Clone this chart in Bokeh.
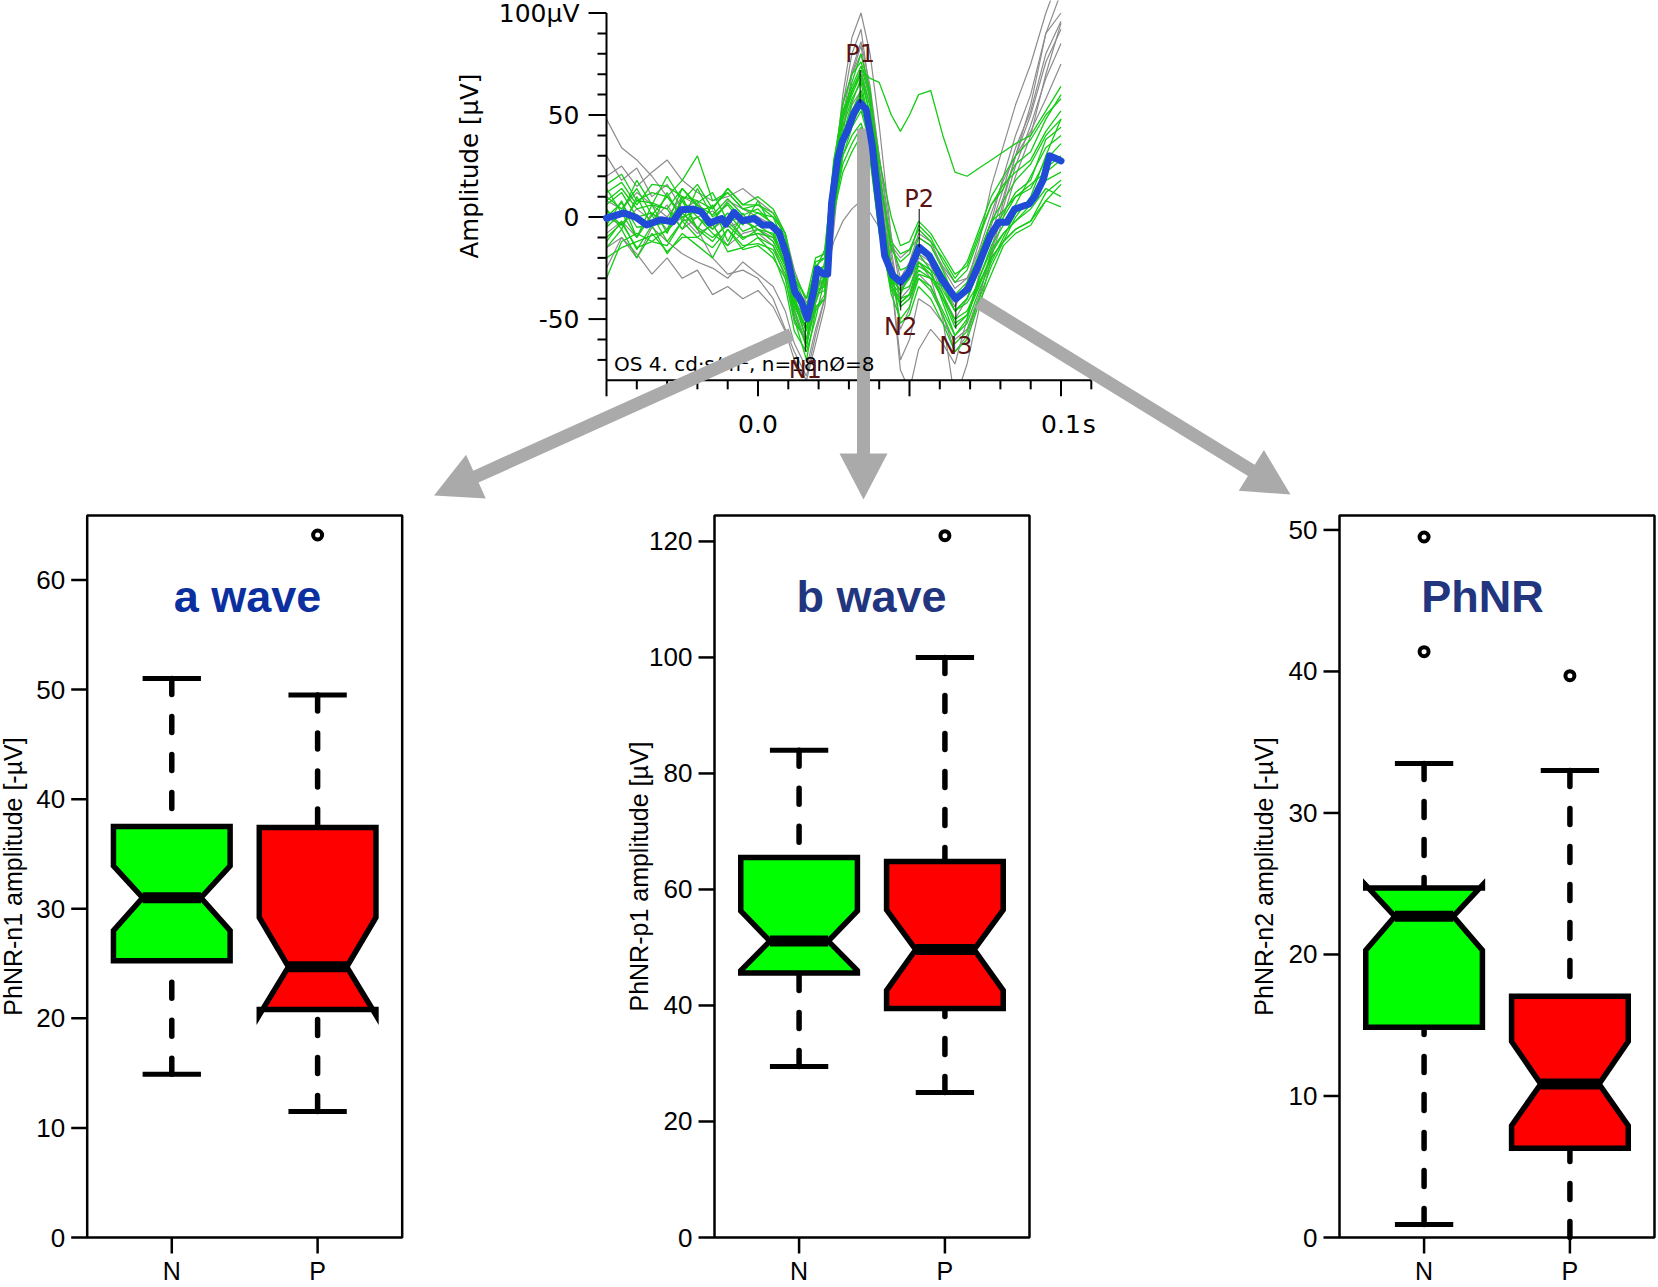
import numpy as np
from bokeh.plotting import figure
from bokeh.models import Range1d
from bokeh.core.properties import value
from bokeh.embed import file_html
from bokeh.resources import INLINE

# ============================== DATA ==============================
# ---- ERG (top panel) ----
trace_t_ms = [-50, -45, -40, -35, -30, -25, -20, -15, -10, -5,
              0, 5, 9, 12, 16, 19, 22, 25, 28, 31,
              34, 37, 40, 44, 47, 50, 53, 57, 61, 65,
              69, 73, 77, 81, 85, 90, 95, 100]

green_traces = [
    [6, 12, 0, 2, -3, 14, 5, -2, 7, -1, 2, -3, -14, -42, -60, -34, -30, 22, 48, 60,
     70, 50, 10, -28, -36, -30, -14, -22, -36, -46, -40, -26, -8, 2, 12, 18, 38, 44],
    [-10, -3, -15, -12, -14, -2, -10, -15, -6, -14, -13, -16, -28, -44, -55, -38, -36, 4, 26, 36,
     44, 30, -6, -36, -42, -38, -26, -30, -40, -50, -46, -33, -20, -12, -6, -2, 12, 18],
    [16, 21, 8, 12, 10, 18, 30, 8, 12, 4, 6, 0, -8, -28, -40, -20, -18, 28, 52, 64,
     74, 58, 28, 0, -14, -12, -2, -8, -18, -28, -24, -8, 6, 14, 26, 32, 48, 60],
    [0, 7, -5, -4, -3, 8, 0, -6, 2, -7, -4, -9, -20, -40, -52, -30, -26, 16, 40, 52,
     60, 42, 6, -26, -30, -26, -14, -18, -28, -38, -32, -18, -2, 3, 10, 14, 28, 36],
    [-20, -15, -12, -9, -7, 2, -5, -10, -4, -11, -6, -12, -24, -42, -56, -36, -34, 8, 30, 40,
     46, 32, -2, -34, -40, -38, -22, -28, -38, -52, -48, -30, -16, -8, -2, 4, 14, 10],
    [8, 14, 4, 6, 4, 14, 6, 1, 9, 1, 4, -4, -14, -34, -44, -24, -20, 22, 48, 62,
     72, 68, 66, 50, 42, 50, 60, 62, 40, 22, 20, 24, 28, 32, 36, 40, 52, 64],
    [10, 4, 14, 1, 10, 0, 3, 5, 12, 4, 2, 0, -14, -40, -60, -44, -40, 4, 36, 52,
     62, 46, 10, -30, -44, -40, -30, -36, -48, -62, -56, -40, -24, -12, 0, 10, 30, 48],
    [-5, 2, -10, 1, -12, -2, 0, -8, -14, -1, -6, -8, -24, -50, -70, -46, -40, 6, 40, 56,
     68, 50, 12, -24, -52, -48, -34, -40, -52, -66, -60, -42, -28, -14, -8, -4, 8, 16],
    [3, -4, 8, 7, 4, -6, 7, 12, -2, 0, -2, -6, -16, -30, -40, -26, -24, 20, 50, 66,
     80, 62, 22, -16, -22, -18, -4, -10, -22, -32, -26, -10, 6, 16, 22, 28, 42, 52],
    [-15, -6, -20, -8, -17, -10, -10, -3, -17, -15, -10, -14, -26, -40, -46, -36, -34, 2, 22, 32,
     40, 28, -8, -30, -32, -30, -22, -26, -32, -46, -42, -32, -20, -12, -6, -2, 8, 5],
    [12, 17, 6, 16, 15, 10, 8, 4, 14, 6, 6, 2, -10, -32, -46, -22, -20, 24, 50, 62,
     70, 54, 18, -14, -26, -24, -10, -14, -26, -40, -36, -18, -2, 8, 18, 26, 40, 48],
    [-30, -12, -8, -12, -6, 8, -6, -12, -2, -10, -8, -10, -22, -42, -54, -30, -26, 12, 36, 46,
     54, 38, 2, -34, -42, -38, -28, -30, -34, -46, -40, -24, -8, 0, 10, 16, 22, 28],
    [4, -6, 10, -4, 12, -2, 14, 0, 6, -4, 8, -6, -24, -46, -64, -40, -22, 14, 44, 58,
     66, 44, 0, -32, -38, -28, -18, -26, -42, -58, -50, -30, -14, -4, 6, 20, 34, 40],
    [-4, 8, -10, 6, -8, 10, -6, 6, -12, 2, -10, -18, -34, -56, -66, -50, -30, 6, 34, 50,
     58, 40, -4, -38, -50, -44, -30, -34, -46, -58, -52, -36, -22, -10, 2, 8, 24, 30],
    [14, 2, 18, 6, 20, 8, 16, 4, 14, 6, 10, 4, -8, -30, -44, -26, -16, 26, 56, 70,
     76, 60, 20, -12, -18, -16, -6, -12, -20, -30, -22, -6, 10, 20, 30, 38, 50, 58],
    [-12, -2, -16, -4, -18, -8, -14, -20, -6, -16, -14, -20, -30, -50, -62, -42, -28, 0, 30, 44,
     52, 36, -2, -30, -36, -34, -24, -28, -40, -54, -48, -34, -18, -8, -2, 6, 18, 22],
]

gray_traces = [
    [48, 34, 28, 20, 10, 2, -6, -20, -28, -26, -30, -40, -55, -66, -78, -58, -40, 0, 35, 55,
     62, 45, 20, -30, -75, -85, -65, -55, -62, -72, -50, -28, -8, 10, 30, 55, 90, 110],
    [-15, -10, -20, -5, -12, -18, -22, -25, -30, -22, -28, -34, -46, -62, -74, -55, -40, 10, 55, 80,
     92, 60, 30, -10, -30, -22, -8, -12, -25, -35, -30, -20, -2, 20, 40, 60, 90, 100],
    [20, 25, 15, 22, 28, 18, 12, 8, 10, 14, 8, 2, -8, -26, -42, -36, -30, 20, 60, 88,
     100, 80, 45, -10, -35, -30, -18, -22, -32, -44, -32, -12, 15, 35, 55, 75, 100, 120],
    [0, -4, 4, -2, 6, -6, 0, 3, -5, -2, -6, -10, -22, -45, -62, -42, -30, -12, -2, 4,
     8, 2, -5, -14, -20, -16, -10, -14, -24, -32, -30, -16, 2, 18, 30, 42, 58, 75],
    [8, 4, 12, 6, 0, 10, 6, -2, 8, 4, 0, -4, -16, -40, -55, -34, -28, 22, 55, 70,
     80, 60, 25, -25, -55, -45, -22, -30, -50, -90, -72, -45, -20, 0, 20, 40, 70, 95],
    [-8, -2, -10, 2, -6, 0, -8, -4, -14, -8, -6, -12, -24, -48, -62, -45, -38, 8, 45, 62,
     72, 55, 18, -30, -70, -60, -40, -44, -52, -60, -55, -38, -18, 5, 25, 45, 68, 85],
    [-25, -10, -18, -28, -20, -30, -26, -38, -34, -40, -36, -44, -56, -70, -80, -62, -44, -6, 40, 70,
     84, 56, 24, -20, -40, -35, -20, -24, -38, -50, -40, -26, -4, 14, 34, 52, 80, 96],
    [30, 18, 24, 10, 16, 4, 8, -6, 0, -10, -8, -14, -30, -52, -60, -40, -30, 14, 50, 72,
     86, 64, 30, -16, -44, -40, -28, -34, -48, -66, -58, -40, -16, 8, 30, 50, 76, 92],
]

mean_t_ms = [-50.0, -44.2, -40.2, -36.8, -32.1, -28.1, -25.4, -21.4, -18.7, -16.0,
             -12.0, -10.6, -7.9, -5.2, -1.2, 1.5, 4.2, 6.9, 9.5, 12.2,
             14.2, 16.3, 18.3, 19.6, 21.6, 23.0, 24.3, 26.3, 27.7, 29.7,
             31.7, 33.7, 35.7, 37.7, 39.8, 41.8, 44.5, 47.1, 49.8, 53.2,
             56.5, 60.6, 65.3, 69.3, 72.7, 76.7, 79.4, 82.1, 84.7, 89.5,
             91.5, 94.2, 96.2, 98.9, 100.0]
mean_uv = [-0.5, 2.0, -0.2, -3.9, -1.3, -2.3, 3.6, 3.9, 2.6, -2.9,
           -0.7, -3.4, 2.3, -1.8, -0.7, -3.9, -3.9, -7.5, -18.9, -36.8,
           -40.9, -49.8, -36.8, -25.4, -27.9, -27.9, 7.2, 28.3, 36.5, 43.0,
           51.1, 56.0, 52.8, 34.9, 7.2, -18.9, -28.7, -31.9, -27.0, -14.8,
           -18.9, -30.3, -40.1, -35.2, -23.8, -9.1, -2.6, -2.6, 3.9, 6.4,
           10.4, 18.6, 30.0, 28.3, 27.5]

peak_names = ["N1", "P1", "N2", "P2", "N3"]
peak_t_ms = [15.6, 33.7, 47.1, 53.2, 65.3]
peak_label_uv = [-75.0, 80.0, -54.0, 9.0, -63.0]
peak_line_from_uv = [-51.5, 72.0, -32.7, 4.0, -41.7]
peak_line_to_uv = [-66.0, 56.0, -45.8, -14.8, -54.7]

erg_major_y = [100, 50, 0, -50]
erg_major_y_labels = ["100μV", "50", "0", "-50"]
erg_minor_y = [90, 80, 70, 60, 40, 30, 20, 10, -10, -20, -30, -40, -60, -70]
erg_major_x = [-0.05, 0.0, 0.05, 0.1]
erg_label_x = [0.0, 0.1]
erg_label_x_text = ["0.0", "0.1"]
erg_minor_x = [-0.04, -0.03, -0.02, -0.01, 0.01, 0.02, 0.03, 0.04, 0.06, 0.07, 0.08, 0.09, 0.11]
erg_note = "OS 4. cd·s/m², n=18nØ=8"

# ---- box plots (N / P groups) ----
groups = ["N", "P"]
group_pos = [1, 2]

a_low = [14.9, 11.5]
a_q1 = [25.25, 20.8]
a_notch_lo = [28.0, 20.3]
a_median = [31.0, 24.7]
a_notch_hi = [33.9, 29.2]
a_q3 = [37.5, 37.4]
a_high = [51.0, 49.5]
a_out_pos = [2]
a_out_val = [64.1]
a_ticks = [0, 10, 20, 30, 40, 50, 60]

b_low = [29.5, 25.0]
b_q1 = [45.6, 39.5]
b_notch_lo = [46.0, 42.6]
b_median = [51.1, 49.65]
b_notch_hi = [56.3, 56.5]
b_q3 = [65.5, 64.8]
b_high = [84.0, 100.0]
b_out_pos = [2]
b_out_val = [121.0]
b_ticks = [0, 20, 40, 60, 80, 100, 120]

c_low = [0.92, 0.0]
c_q1 = [14.86, 6.3]
c_notch_lo = [20.3, 7.9]
c_median = [22.7, 10.85]
c_notch_hi = [24.9, 13.85]
c_q3 = [24.7, 17.05]
c_high = [33.5, 33.0]
c_out_pos = [1, 1, 2]
c_out_val = [49.5, 41.4, 39.7]
c_ticks = [0, 10, 20, 30, 40, 50]

panel_titles = ["a wave", "b wave", "PhNR"]
panel_ylabels = ["PhNR-n1 amplitude [-µV]", "PhNR-p1 amplitude [µV]", "PhNR-n2 amplitude [-µV]"]

# ============================ LAYOUT ============================
W, H = 1656, 1285
ERG_T0, ERG_TMAX, ERG_X0, ERG_KX = -0.05, 0.11, 606.0, 3030.0
ERG_VMAX, ERG_VMIN, ERG_Y0, ERG_KY = 100.0, -80.0, 12.5, 2.0406
BOX_X_LO, BOX_X_HI, BOX_KX = 0.42, 2.58, 145.83
BOX_LEFT = [86.7, 714.0, 1339.0]
BOX_Y_ZERO, BOX_Y_TOP = 1237.0, 515.0
BOX_TOPVAL = [65.88, 124.47, 51.02]
TITLE_X = [247.0, 871.0, 1482.0]
TITLE_BASE_Y = 596.0
TITLE_COLORS = ["#0c2f9f", "#22357f", "#22357f"]
ARROW_MIDDLE = ((863.0, 128.0), (863.0, 499.0))
ARROWS_SIDE = [((790.8, 334.0), (433.5, 495.0)),
               ((978.0, 302.0), (1290.0, 494.0))]
GREEN_FILL, RED_FILL = "#00ff00", "#ff0000"


def cy(y_down):
    return H - y_down


def xrange_for(d0, c0, k):
    s = d0 - c0 / k
    return Range1d(start=s, end=s + W / k)


def yrange_for(d0, c0_down, k):
    e = d0 + c0_down / k
    return Range1d(start=e - H / k, end=e)


p = figure(width=W, height=H, x_range=Range1d(0, W), y_range=Range1d(0, H),
           output_backend="svg", toolbar_location=None, min_border=0,
           x_axis_type=None, y_axis_type=None, outline_line_color=None)
p.background_fill_color = "white"
p.border_fill_color = "white"

box_k = [(BOX_Y_ZERO - BOX_Y_TOP) / tv for tv in BOX_TOPVAL]
p.extra_x_ranges = {"erg": xrange_for(ERG_T0, ERG_X0, ERG_KX),
                    "b0": xrange_for(BOX_X_LO, BOX_LEFT[0], BOX_KX),
                    "b1": xrange_for(BOX_X_LO, BOX_LEFT[1], BOX_KX),
                    "b2": xrange_for(BOX_X_LO, BOX_LEFT[2], BOX_KX)}
p.extra_y_ranges = {"erg": yrange_for(ERG_VMAX, ERG_Y0, ERG_KY),
                    "b0": yrange_for(0.0, BOX_Y_ZERO, box_k[0]),
                    "b1": yrange_for(0.0, BOX_Y_ZERO, box_k[1]),
                    "b2": yrange_for(0.0, BOX_Y_ZERO, box_k[2])}

E = dict(x_range_name="erg", y_range_name="erg")
DJ = value("DejaVu Sans")
LS = value("Liberation Sans")

# ---------------- ERG traces ----------------
tt = [t / 1000.0 for t in trace_t_ms]
p.multi_line(xs=[tt] * len(gray_traces), ys=gray_traces, line_color="#8c8c8c",
             line_width=1.2, **E)
p.multi_line(xs=[tt] * len(green_traces), ys=green_traces, line_color="#14cc14",
             line_width=1.3, **E)
# hide everything below the x axis of the ERG (plot-area clipping)
p.quad(left=[ERG_T0 - 0.01], right=[ERG_TMAX + 0.01], bottom=[ERG_VMIN - 50],
       top=[ERG_VMIN], fill_color="white", line_color=None, **E)

# ---------------- ERG axes ----------------
p.segment(x0=[ERG_T0, ERG_T0], y0=[ERG_VMIN, ERG_VMIN], x1=[ERG_T0, ERG_TMAX],
          y1=[ERG_VMAX, ERG_VMIN], line_color="black", line_width=2, **E)
p.segment(x0=[ERG_T0 - 18 / ERG_KX] * len(erg_major_y), y0=erg_major_y,
          x1=[ERG_T0] * len(erg_major_y), y1=erg_major_y, line_color="black", line_width=2, **E)
p.segment(x0=[ERG_T0 - 9 / ERG_KX] * len(erg_minor_y), y0=erg_minor_y,
          x1=[ERG_T0] * len(erg_minor_y), y1=erg_minor_y, line_color="black", line_width=2, **E)
p.segment(x0=erg_major_x, y0=[ERG_VMIN] * len(erg_major_x), x1=erg_major_x,
          y1=[ERG_VMIN - 16 / ERG_KY] * len(erg_major_x), line_color="black", line_width=2, **E)
p.segment(x0=erg_minor_x, y0=[ERG_VMIN] * len(erg_minor_x), x1=erg_minor_x,
          y1=[ERG_VMIN - 9 / ERG_KY] * len(erg_minor_x), line_color="black", line_width=2, **E)
p.text(x=[ERG_T0 - 27 / ERG_KX] * len(erg_major_y), y=erg_major_y, text=erg_major_y_labels,
       text_font=DJ, text_font_size="25px", text_align="right", text_baseline="middle",
       text_color="black", **E)
p.text(x=erg_label_x, y=[ERG_VMIN - 44 / ERG_KY] * 2, text=erg_label_x_text,
       text_font=DJ, text_font_size="25px", text_align="center", text_baseline="middle",
       text_color="black", **E)
p.text(x=[ERG_TMAX - 2 / ERG_KX], y=[ERG_VMIN - 44 / ERG_KY], text=["s"],
       text_font=DJ, text_font_size="25px", text_align="center", text_baseline="middle",
       text_color="black", **E)
p.text(x=[468.5], y=[cy(165.5)], text=["Amplitude [μV]"], angle=np.pi / 2,
       text_font=DJ, text_font_size="24.5px", text_align="center", text_baseline="middle",
       text_color="black")


# ---------------- grey arrows ----------------
def arrow_polygon(tail, tip, shaft_w, head_len, head_half):
    x0, y0 = tail
    x1, y1 = tip
    dx, dy = x1 - x0, y1 - y0
    L = (dx * dx + dy * dy) ** 0.5
    ux, uy = dx / L, dy / L
    nx, ny = -uy, ux
    bx, by = x1 - ux * head_len, y1 - uy * head_len
    s = shaft_w / 2.0
    pts = [(x0 + nx * s, y0 + ny * s), (bx + nx * s, by + ny * s),
           (bx + nx * head_half, by + ny * head_half), (x1, y1),
           (bx - nx * head_half, by - ny * head_half), (bx - nx * s, by - ny * s),
           (x0 - nx * s, y0 - ny * s)]
    return [q[0] for q in pts], [cy(q[1]) for q in pts]


# middle arrow below the note text, side arrows above it
mx, my = arrow_polygon(ARROW_MIDDLE[0], ARROW_MIDDLE[1], 13.0, 46.0, 24.0)
p.patch(x=mx, y=my, fill_color="#aaaaaa", line_color=None)

p.text(x=[-0.0475], y=[-71.8], text=[erg_note], text_font=DJ, text_font_size="20px",
       text_align="left", text_baseline="middle", text_color="black", **E)

axs, ays = [], []
for tail, tip in ARROWS_SIDE:
    ax_, ay_ = arrow_polygon(tail, tip, 13.0, 46.0, 24.0)
    axs.append(ax_)
    ays.append(ay_)
p.patches(xs=axs, ys=ays, fill_color="#aaaaaa", line_color=None)

# ---------------- mean trace + peak markers ----------------
p.line(x=[t / 1000.0 for t in mean_t_ms], y=mean_uv, line_color="#1f4bd6", line_width=7,
       line_join="round", line_cap="round", **E)
pk_t = [t / 1000.0 for t in peak_t_ms]
p.segment(x0=pk_t, y0=peak_line_from_uv, x1=pk_t, y1=peak_line_to_uv,
          line_color="black", line_width=1, **E)
p.text(x=pk_t, y=peak_label_uv, text=peak_names, text_font=DJ, text_font_size="24px",
       text_align="center", text_baseline="middle", text_color="#5a1414", **E)

# ---------------- box plots ----------------
panels = [
    dict(low=a_low, q1=a_q1, nlo=a_notch_lo, med=a_median, nhi=a_notch_hi, q3=a_q3,
         high=a_high, opos=a_out_pos, oval=a_out_val, ticks=a_ticks),
    dict(low=b_low, q1=b_q1, nlo=b_notch_lo, med=b_median, nhi=b_notch_hi, q3=b_q3,
         high=b_high, opos=b_out_pos, oval=b_out_val, ticks=b_ticks),
    dict(low=c_low, q1=c_q1, nlo=c_notch_lo, med=c_median, nhi=c_notch_hi, q3=c_q3,
         high=c_high, opos=c_out_pos, oval=c_out_val, ticks=c_ticks),
]
fills = [GREEN_FILL, RED_FILL]
WID, NF = 0.4, 0.5

for i, pn in enumerate(panels):
    R = dict(x_range_name="b%d" % i, y_range_name="b%d" % i)
    ky = box_k[i]
    n = len(group_pos)
    # whiskers (dashed) from whisker end to hinge
    p.segment(x0=group_pos + group_pos, y0=pn["low"] + pn["high"],
              x1=group_pos + group_pos, y1=pn["q1"] + pn["q3"],
              line_color="black", line_width=5.5, line_dash="16 22", line_cap="round", **R)
    # staples
    sx0, sx1, sy = [], [], []
    for g, v in zip(group_pos + group_pos, pn["low"] + pn["high"]):
        if v > 0:
            sx0.append(g - NF * WID)
            sx1.append(g + NF * WID)
            sy.append(v)
    p.segment(x0=sx0, y0=sy, x1=sx1, y1=sy, line_color="black", line_width=5, **R)
    # notched boxes
    bxs, bys = [], []
    for j, g in enumerate(group_pos):
        bxs.append([g - WID, g + WID, g + WID, g + NF * WID, g + WID, g + WID,
                    g - WID, g - WID, g - NF * WID, g - WID])
        bys.append([pn["q1"][j], pn["q1"][j], pn["nlo"][j], pn["med"][j], pn["nhi"][j],
                    pn["q3"][j], pn["q3"][j], pn["nhi"][j], pn["med"][j], pn["nlo"][j]])
    p.patches(xs=bxs, ys=bys, fill_color=fills, line_color="black", line_width=5.5,
              line_join="miter", **R)
    # medians
    p.segment(x0=[g - NF * WID for g in group_pos], y0=pn["med"],
              x1=[g + NF * WID for g in group_pos], y1=pn["med"],
              line_color="black", line_width=11, **R)
    # outliers
    p.scatter(x=pn["opos"], y=pn["oval"], marker="circle", size=9, fill_color="white",
              line_color="black", line_width=4, **R)
    # frame
    p.quad(left=[BOX_X_LO], right=[BOX_X_HI], bottom=[0], top=[BOX_TOPVAL[i]],
           fill_color=None, line_color="black", line_width=2.5, **R)
    # y ticks + labels
    tk = pn["ticks"]
    p.segment(x0=[BOX_X_LO - 16 / BOX_KX] * len(tk), y0=tk, x1=[BOX_X_LO] * len(tk), y1=tk,
              line_color="black", line_width=2.5, **R)
    p.text(x=[BOX_X_LO - 22 / BOX_KX] * len(tk), y=tk, text=[str(v) for v in tk],
           text_font=LS, text_font_size="26px", text_align="right", text_baseline="middle",
           text_color="black", **R)
    # x ticks + category labels
    p.segment(x0=group_pos, y0=[0] * n, x1=group_pos, y1=[-16 / ky] * n,
              line_color="black", line_width=2.5, **R)
    p.text(x=group_pos, y=[-33 / ky] * n, text=groups, text_font=LS, text_font_size="25px",
           text_align="center", text_baseline="middle", text_color="black", **R)
    # y label
    lab_x = max(BOX_LEFT[i] - 76.0, 12.5)
    p.text(x=[lab_x], y=[cy((BOX_Y_ZERO + BOX_Y_TOP) / 2.0)], text=[panel_ylabels[i]],
           angle=np.pi / 2, text_font=LS, text_font_size="25px", text_align="center",
           text_baseline="middle", text_color="black")
    # title
    p.text(x=[TITLE_X[i]], y=[cy(TITLE_BASE_Y)], text=[panel_titles[i]], text_font=LS,
           text_font_size="45px", text_font_style="bold", text_align="center",
           text_baseline="alphabetic", text_color=TITLE_COLORS[i])

open("out.html", "w").write(file_html(p, INLINE))
